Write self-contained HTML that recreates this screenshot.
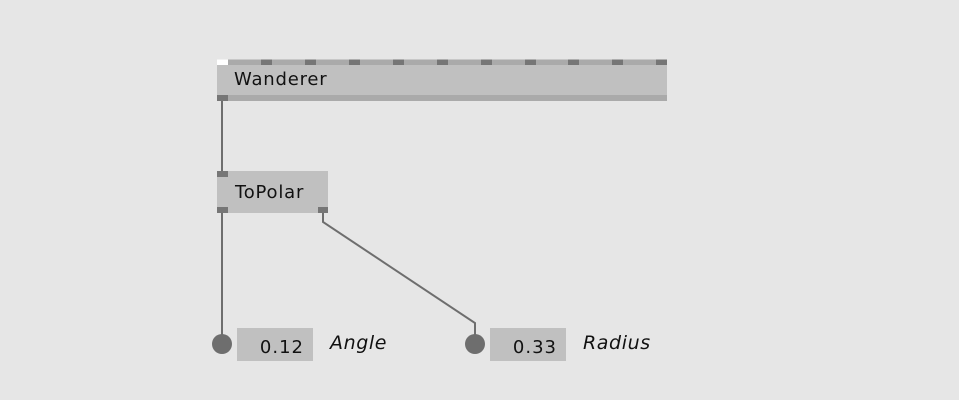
<!DOCTYPE html>
<html><head><meta charset="utf-8"><style>
body{margin:0;background:#e6e6e6;}
svg{display:block}
text{font-family:"DejaVu Sans","Liberation Sans",sans-serif;fill:#111;}
</style></head><body>
<svg width="959" height="400" viewBox="0 0 959 400" xmlns="http://www.w3.org/2000/svg">
<rect width="959" height="400" fill="#e6e6e6"/>
<rect x="217" y="59.5" width="450" height="41.5" fill="#c0c0c0"/>
<rect x="217" y="59.5" width="450" height="5.5" fill="#aaaaaa"/>
<rect x="217" y="95" width="450" height="6" fill="#aaaaaa"/>
<rect x="217" y="59.5" width="11" height="5.5" fill="#ffffff"/>
<g fill="#767676">
<rect x="261" y="59.5" width="11" height="5.5"/>
<rect x="305" y="59.5" width="11" height="5.5"/>
<rect x="349" y="59.5" width="11" height="5.5"/>
<rect x="393" y="59.5" width="11" height="5.5"/>
<rect x="437" y="59.5" width="11" height="5.5"/>
<rect x="481" y="59.5" width="11" height="5.5"/>
<rect x="525" y="59.5" width="11" height="5.5"/>
<rect x="568" y="59.5" width="11" height="5.5"/>
<rect x="612" y="59.5" width="11" height="5.5"/>
<rect x="656" y="59.5" width="11" height="5.5"/>
<rect x="217" y="95" width="11" height="6"/>
</g>
<text x="234" y="85" font-size="18" letter-spacing="0.8">Wanderer</text>
<rect x="217" y="171" width="111" height="42" fill="#c0c0c0"/>
<g fill="#767676">
<rect x="217" y="171" width="11" height="6"/>
<rect x="217" y="207" width="11" height="6"/>
<rect x="318" y="207" width="10" height="6"/>
</g>
<text x="235" y="198" font-size="18" letter-spacing="0.8">ToPolar</text>
<g stroke="#6e6e6e" stroke-width="2" fill="none">
<line x1="222" y1="101" x2="222" y2="171"/>
<line x1="222" y1="213" x2="222" y2="336"/>
<polyline points="323,213 323,222 475,323 475,336"/>
</g>
<circle cx="222" cy="344" r="10" fill="#6e6e6e"/>
<circle cx="475" cy="344" r="10" fill="#6e6e6e"/>
<rect x="237" y="328" width="76" height="33" fill="#c0c0c0"/>
<rect x="490" y="328" width="76" height="33" fill="#c0c0c0"/>
<text x="304" y="353" font-size="18" text-anchor="end" letter-spacing="1">0.12</text>
<text x="557" y="353" font-size="18" text-anchor="end" letter-spacing="1">0.33</text>
<text x="330" y="349" font-size="19" font-style="italic" letter-spacing="0.6">Angle</text>
<text x="583" y="349" font-size="19" font-style="italic" letter-spacing="0.6">Radius</text>
</svg>
</body></html>
